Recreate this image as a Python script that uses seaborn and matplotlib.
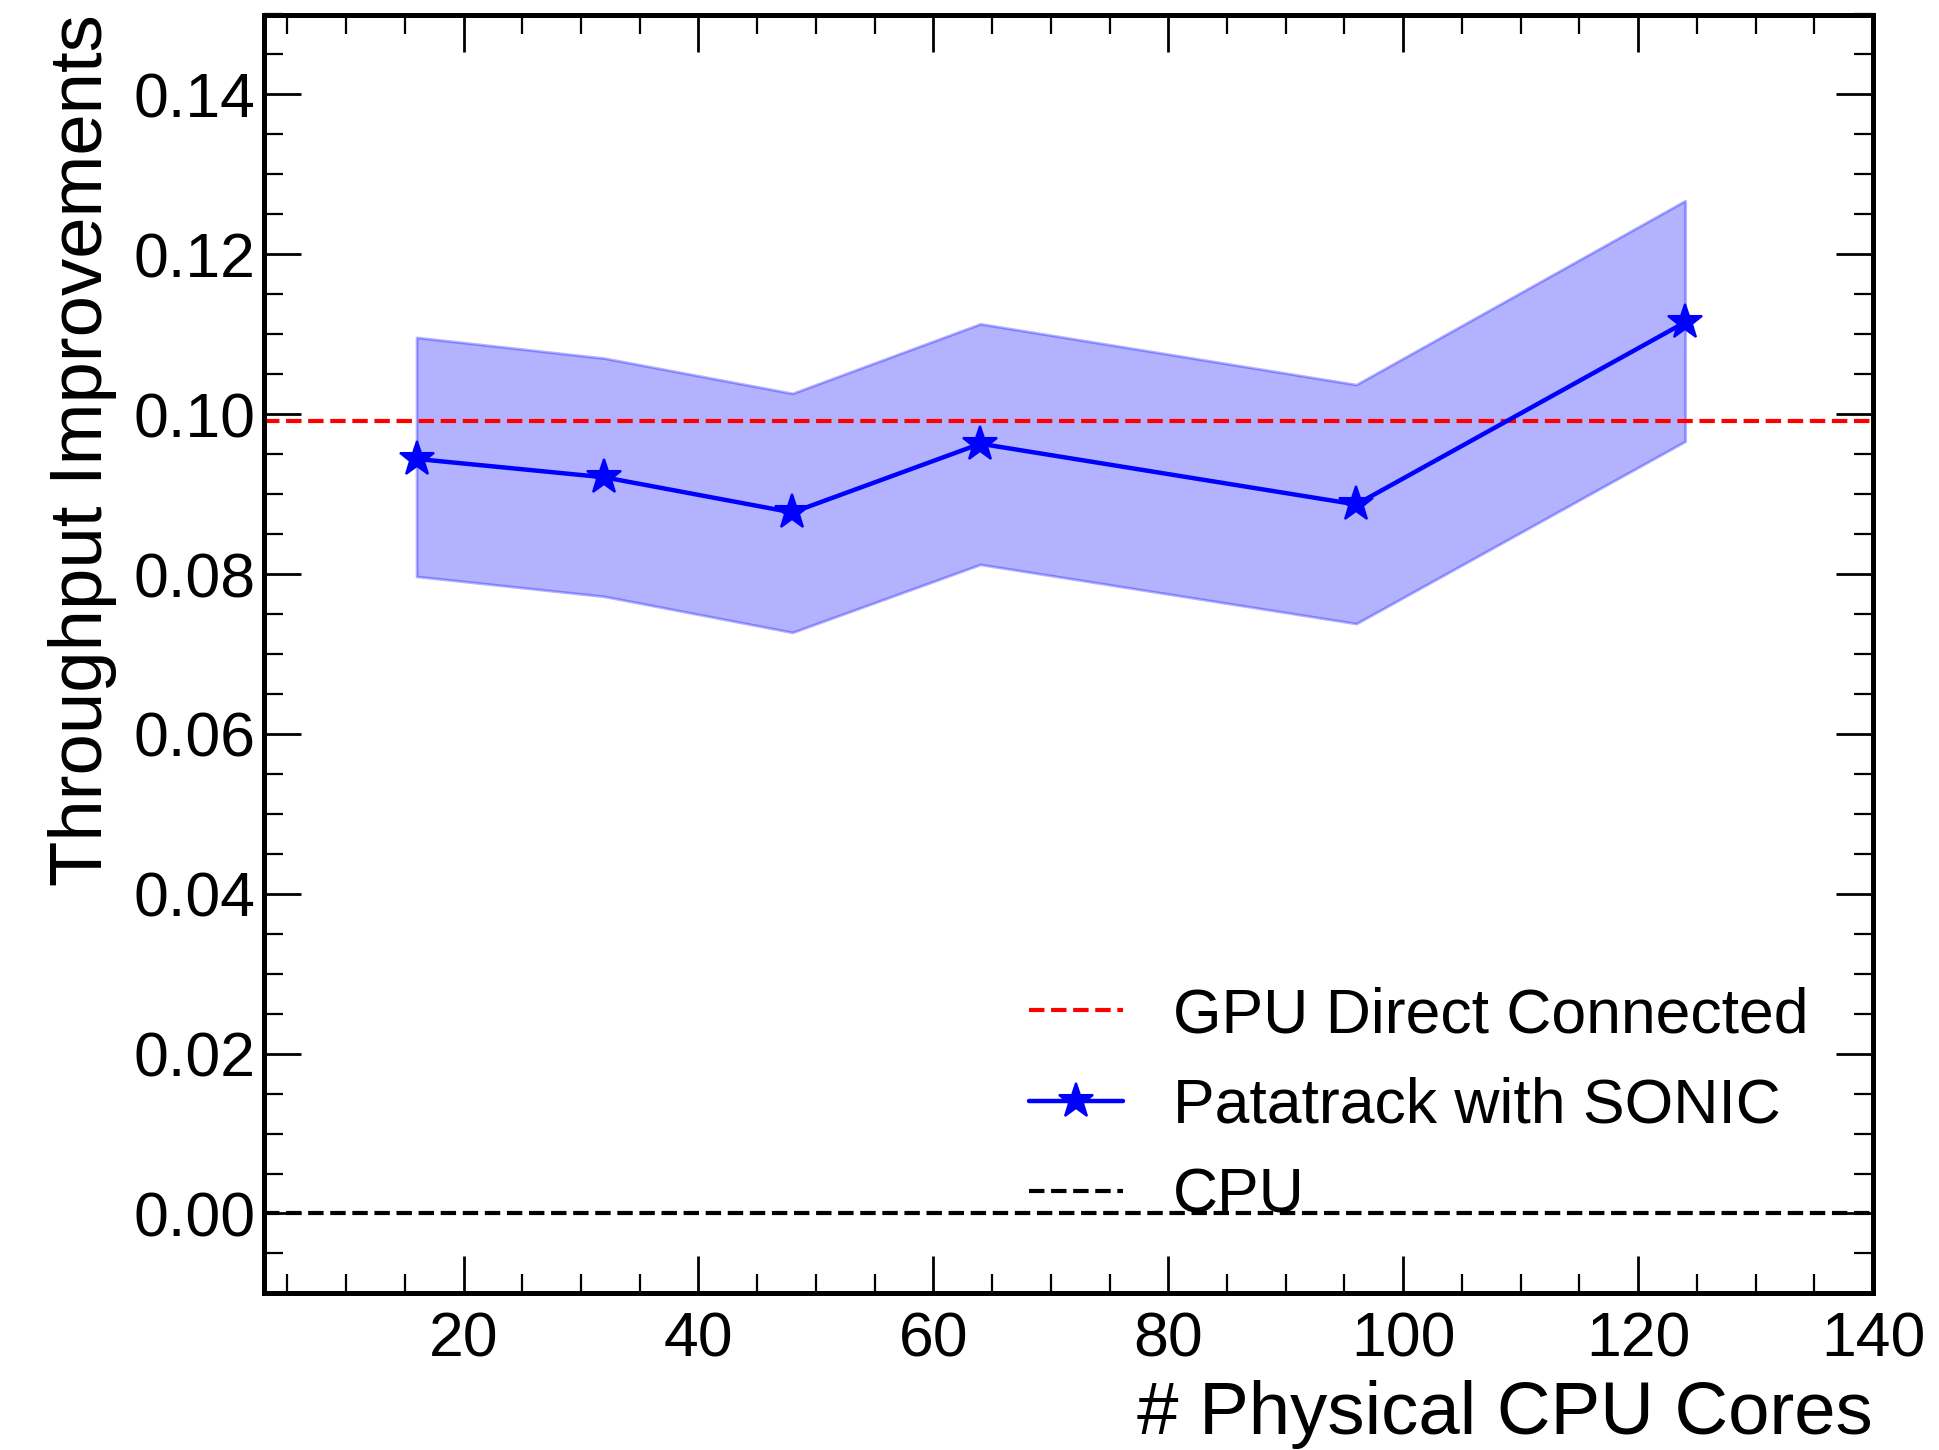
import matplotlib
matplotlib.use("Agg")
import matplotlib.pyplot as plt
from matplotlib.ticker import MultipleLocator
import seaborn as sns
import pandas as pd
import numpy as np

# ---- data ----
cores = [16, 32, 48, 64, 96, 124]
improvement = [0.0944, 0.0921, 0.0877, 0.0963, 0.0887, 0.1115]
band_low = [0.0797, 0.0772, 0.0727, 0.0812, 0.0738, 0.0966]
band_high = [0.1096, 0.1070, 0.1026, 0.1113, 0.1037, 0.1267]
gpu_direct = 0.0991
cpu_baseline = 0.0

x_label = "# Physical CPU Cores"
y_label = "Throughput Improvements"
legend_labels = ["GPU Direct Connected", "Patatrack with SONIC", "CPU"]

sns.set_style("ticks")
plt.rcParams["font.family"] = ["Liberation Sans", "DejaVu Sans"]
plt.rcParams["text.color"] = "black"
plt.rcParams["axes.labelcolor"] = "black"
plt.rcParams["xtick.color"] = "black"
plt.rcParams["ytick.color"] = "black"

fig = plt.figure(figsize=(9.7, 7.25), dpi=200)
ax = fig.add_axes([0.136, 0.108, 0.8295, 0.882])

df = pd.DataFrame({"cores": cores, "improvement": improvement})

ax.axhline(gpu_direct, color="red", ls="--", lw=1.5, label=legend_labels[0])
ax.fill_between(cores, band_low, band_high, color="blue", alpha=0.3, lw=1)
sns.lineplot(data=df, x="cores", y="improvement", ax=ax, color="blue",
             marker="*", markersize=13, markeredgecolor="blue", lw=1.6,
             label=legend_labels[1])
ax.axhline(cpu_baseline, color="black", ls="--", lw=1.5, label=legend_labels[2])

ax.set_xlim(3, 140)
ax.set_ylim(-0.01, 0.15)
ax.xaxis.set_minor_locator(MultipleLocator(5))
ax.yaxis.set_minor_locator(MultipleLocator(0.005))
ax.set_xticks([20, 40, 60, 80, 100, 120, 140])
ax.set_xticklabels(["20", "40", "60", "80", "100", "120", "140"])
ax.set_yticks([0.0, 0.02, 0.04, 0.06, 0.08, 0.10, 0.12, 0.14])
ax.set_yticklabels(["0.00", "0.02", "0.04", "0.06", "0.08", "0.10", "0.12", "0.14"])

ax.tick_params(which="both", direction="in", top=True, right=True, labelsize=22.5,
               colors="black")
ax.tick_params(which="major", length=13.4, width=1.0)
ax.tick_params(which="minor", length=6.7, width=0.8)
ax.tick_params(axis="y", which="major", pad=3)
ax.tick_params(axis="x", which="major", pad=6)
for s in ax.spines.values():
    s.set_linewidth(1.8)
    s.set_color("black")

ax.set_xlabel(x_label, fontsize=26.8, ha="right", x=1.0, color="black")
ax.set_ylabel(y_label, fontsize=26.8, ha="right", y=1.0, color="black")
ax.xaxis.labelpad = 4
ax.yaxis.labelpad = 6

leg = ax.legend(loc="lower right", bbox_to_anchor=(0.995, 0.009), fontsize=22.5,
                frameon=False, handlelength=1.5, handletextpad=0.8, labelspacing=0.5)
for t in leg.get_texts():
    t.set_color("black")

fig.savefig("out.png", dpi=200)
